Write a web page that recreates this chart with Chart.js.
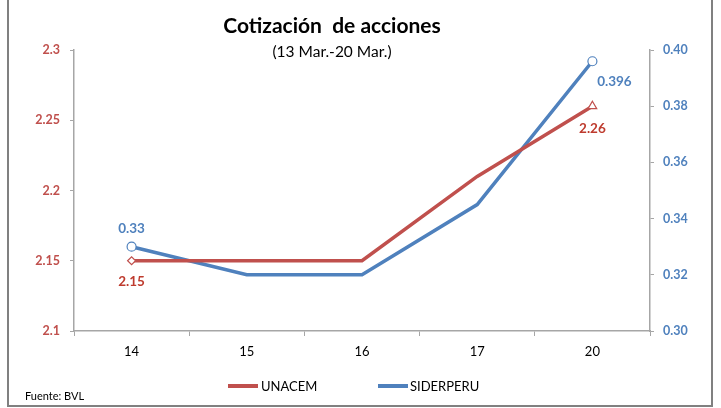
<!DOCTYPE html>
<html>
<head>
<meta charset="utf-8">
<script src="https://cdn.jsdelivr.net/npm/chart.js@4"></script>
<style>
  html, body { margin: 0; padding: 0; background: #fff; }
  #wrap { width: 721px; height: 408px; position: relative; }
</style>
</head>
<body>
<div id="wrap"><canvas id="lineChart" width="721" height="408"></canvas></div>
<script>
// datos
let days = ['14', '15', '16', '17', '20'];
let unacem = [2.15, 2.15, 2.15, 2.21, 2.26];
let siderperu = [0.33, 0.32, 0.32, 0.345, 0.396];
let leftTicks = [2.1, 2.15, 2.2, 2.25, 2.3];
let rightTicks = [0.30, 0.32, 0.34, 0.36, 0.38, 0.40];

const RED = '#C0504D';
const BLUE = '#4F81BD';
const FONT = 'Lato, "Open Sans", sans-serif';

// titulo, etiquetas, leyenda y marco
const decoPlugin = {
  id: 'deco',
  afterDraw(chart) {
    const ctx = chart.ctx;
    ctx.save();
    // marco
    ctx.strokeStyle = '#808080';
    ctx.lineWidth = 2;
    ctx.beginPath();
    ctx.moveTo(8, 0); ctx.lineTo(8, 406); ctx.lineTo(712, 406); ctx.lineTo(712, 0);
    ctx.stroke();

    ctx.textAlign = 'center';
    ctx.textBaseline = 'alphabetic';
    ctx.fillStyle = '#000';
    ctx.font = 'bold 21px ' + FONT;
    ctx.fillText('Cotización  de acciones', 332, 33);
    ctx.font = '15.5px ' + FONT;
    ctx.fillText('(13 Mar.-20 Mar.)', 332, 57);

    // etiquetas de datos (primero y ultimo)
    ctx.textBaseline = 'middle';
    const m0 = chart.getDatasetMeta(0).data;
    const m1 = chart.getDatasetMeta(1).data;
    const last = days.length - 1;
    ctx.font = 'bold 13.5px ' + FONT;
    ctx.fillStyle = '#BE3B2E';
    ctx.fillText(unacem[0].toFixed(2), m0[0].x, m0[0].y + 21);
    ctx.fillText(unacem[last].toFixed(2), m0[last].x, m0[last].y + 22);
    ctx.fillStyle = BLUE;
    ctx.fillText(siderperu[0].toFixed(2), m1[0].x, m1[0].y - 18);
    ctx.fillText(String(siderperu[last]), m1[last].x + 22, m1[last].y + 20);

    // leyenda
    ctx.font = '13px ' + FONT;
    ctx.textAlign = 'left';
    ctx.lineWidth = 4;
    ctx.strokeStyle = RED;
    ctx.beginPath(); ctx.moveTo(228, 386); ctx.lineTo(258, 386); ctx.stroke();
    ctx.fillStyle = '#000';
    ctx.fillText(chart.data.datasets[0].label, 261, 387);
    ctx.strokeStyle = BLUE;
    ctx.beginPath(); ctx.moveTo(378, 386); ctx.lineTo(408, 386); ctx.stroke();
    ctx.fillText(chart.data.datasets[1].label, 410, 387);

    ctx.font = '11px ' + FONT;
    ctx.fillText('Fuente: BVL', 25, 396);
    ctx.restore();
  }
};

const lineChartdata = {
  labels: days,
  datasets: [{
    label: 'UNACEM',
    data: unacem,
    yAxisID: 'y',
    borderColor: RED,
    backgroundColor: '#fff',
    borderWidth: 3.5,
    tension: 0,
    pointStyle: ['rectRot', false, false, false, 'triangle'],
    pointRadius: [4, 0, 0, 0, 5],
    pointBorderWidth: 1.2,
    pointBackgroundColor: '#fff',
    pointBorderColor: RED,
  },
  {
    label: 'SIDERPERU',
    data: siderperu,
    yAxisID: 'y1',
    borderColor: BLUE,
    backgroundColor: '#fff',
    borderWidth: 3.5,
    tension: 0,
    pointStyle: 'circle',
    pointRadius: [4.5, 0, 0, 0, 4.5],
    pointBorderWidth: 1.2,
    pointBackgroundColor: '#fff',
    pointBorderColor: BLUE,
  }]
};

const configLineChart = {
  type: 'line',
  data: lineChartdata,
  options: {
    responsive: false,
    animation: false,
    layout: { padding: { left: 10, right: 0, top: 50, bottom: 37 } },
    plugins: {
      legend: { display: false },
      title: { display: false },
      tooltip: { enabled: false }
    },
    scales: {
      x: {
        offset: true,
        grid: { offset: true, drawOnChartArea: false, drawTicks: true, tickLength: 5, color: '#A6A6A6' },
        border: { color: '#A6A6A6', width: 1.5 },
        ticks: { color: '#000', font: { family: FONT, size: 13 }, padding: 8 },
        afterFit(s) { s.height = 40; }
      },
      y: {
        position: 'left',
        min: 2.1, max: 2.3,
        afterBuildTicks(s) { s.ticks = leftTicks.map(v => ({ value: v })); },
        grid: { drawOnChartArea: false, tickLength: 4, color: '#A6A6A6' },
        border: { color: '#A6A6A6', width: 1.5 },
        ticks: {
          color: RED, padding: 10,
          font: { family: FONT, size: 12.5, weight: 'bold' },
          callback: v => String(Math.round(v * 100) / 100)
        },
        afterFit(s) { s.width = 64; }
      },
      y1: {
        position: 'right',
        min: 0.30, max: 0.40,
        afterBuildTicks(s) { s.ticks = rightTicks.map(v => ({ value: v })); },
        grid: { drawOnChartArea: false, tickLength: 4, color: '#A6A6A6' },
        border: { color: '#A6A6A6', width: 1.5 },
        ticks: {
          color: BLUE, padding: 9,
          font: { family: FONT, size: 12.5, weight: 'bold' },
          callback: v => v.toFixed(2)
        },
        afterFit(s) { s.width = 71; }
      }
    }
  },
  plugins: [decoPlugin]
};

let lineChart = new Chart(
  document.getElementById('lineChart'),
  configLineChart
);
</script>
</body>
</html>
